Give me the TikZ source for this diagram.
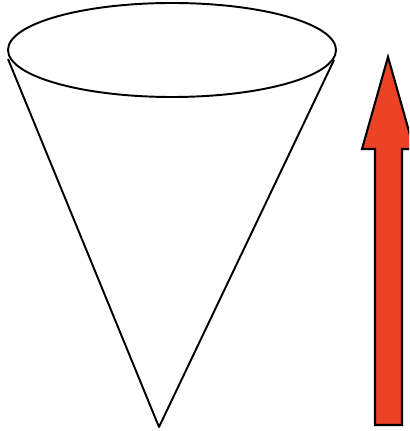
\documentclass[tikz,border=0pt]{standalone}
\usetikzlibrary{positioning}
\definecolor{arrowred}{RGB}{236,66,38}

\begin{document}
\begin{tikzpicture}[
  x=0.02cm, y=-0.02cm,
  cone/.style={draw=black, line width=1.1pt, line join=round},
  bigarrow/.style={draw=black, line width=1.2pt, fill=arrowred, line join=miter}
]
  \clip (0,0) rectangle (409,431);
  \useasboundingbox (0,0) rectangle (409,431);

  % Cone: rim and sides
  \coordinate (rimL) at (8,59);
  \coordinate (rimR) at (334,60);
  \coordinate (apex) at (159,427);
  \draw[cone] (172,50) ellipse [x radius=164, y radius=47];
  \draw[cone] (rimL) -- (apex) -- (rimR);

  % Upward arrow
  \coordinate (tip) at (388,57);
  \draw[bigarrow] (tip) -- (414,149) -- (402,149) -- (402,425)
    -- (375,425) -- (375,149) -- (362,149) -- cycle;
\end{tikzpicture}
\end{document}
